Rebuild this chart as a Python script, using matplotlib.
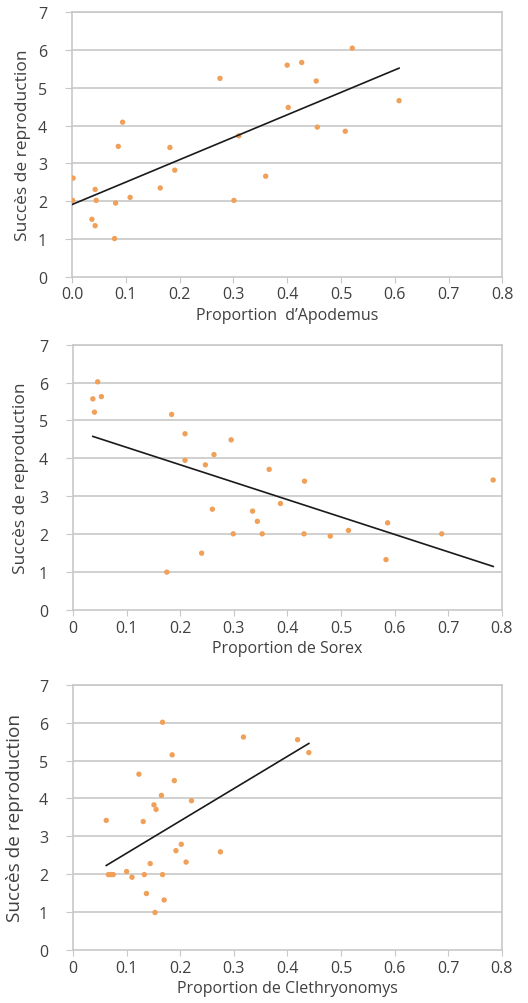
import matplotlib.pyplot as plt
import numpy as np

# data (x = proportion, y = succes de reproduction)
apo_x = [0.002, 0.001, 0.043, 0.045, 0.037, 0.043, 0.079, 0.081, 0.086, 0.094,
         0.108, 0.164, 0.182, 0.191, 0.275, 0.301, 0.310, 0.360, 0.400, 0.402,
         0.427, 0.454, 0.456, 0.508, 0.521, 0.608]
apo_y = [2.61, 2.02, 2.31, 2.02, 1.52, 1.35, 1.01, 1.95, 3.45, 4.09,
         2.10, 2.35, 3.42, 2.82, 5.25, 2.02, 3.73, 2.66, 5.60, 4.48,
         5.67, 5.18, 3.96, 3.85, 6.05, 4.66]
apo_fit_x = [0.0, 0.608]
apo_fit_y = [1.91, 5.52]

sor_x = [0.037, 0.040, 0.046, 0.053, 0.175, 0.184, 0.209, 0.209, 0.240, 0.247,
         0.260, 0.263, 0.295, 0.299, 0.335, 0.344, 0.353, 0.366, 0.387, 0.431,
         0.432, 0.480, 0.514, 0.584, 0.587, 0.688, 0.784]
sor_y = [5.57, 5.22, 6.02, 5.63, 1.00, 5.16, 4.65, 3.95, 1.50, 3.83,
         2.66, 4.10, 4.49, 2.01, 2.61, 2.34, 2.01, 3.71, 2.81, 2.01,
         3.40, 1.95, 2.10, 1.33, 2.30, 2.01, 3.43]
sor_fit_x = [0.037, 0.784]
sor_fit_y = [4.58, 1.15]

cle_x = [0.062, 0.066, 0.071, 0.075, 0.100, 0.110, 0.123, 0.131, 0.133, 0.137,
         0.144, 0.151, 0.155, 0.153, 0.165, 0.167, 0.167, 0.170, 0.185, 0.189,
         0.192, 0.202, 0.211, 0.221, 0.275, 0.318, 0.419, 0.440]
cle_y = [3.42, 1.99, 1.99, 1.99, 2.07, 1.92, 4.64, 3.39, 1.99, 1.49,
         2.28, 3.83, 3.71, 0.99, 4.08, 6.01, 1.99, 1.32, 5.15, 4.47,
         2.62, 2.79, 2.32, 3.94, 2.59, 5.62, 5.55, 5.21]
cle_fit_x = [0.062, 0.440]
cle_fit_y = [2.23, 5.45]

xticks = [0, 0.1, 0.2, 0.3, 0.4, 0.5, 0.6, 0.7, 0.8]
yticks = [0, 1, 2, 3, 4, 5, 6, 7]

# x, y, fit x, fit y, xlabel, xticklabels, axes rect, ylabel size, ylabel x
panels = [
    (apo_x, apo_y, apo_fit_x, apo_fit_y, "Proportion  d\u2019Apodemus",
     ["0.0", "0.1", "0.2", "0.3", "0.4", "0.5", "0.6", "0.7", "0.8"],
     [0.1364, 0.7234, 0.815, 0.2634], 12.5, -0.096),
    (sor_x, sor_y, sor_fit_x, sor_fit_y, "Proportion de Sorex",
     ["0", "0.1", "0.2", "0.3", "0.4", "0.5", "0.6", "0.7", "0.8"],
     [0.1383, 0.3914, 0.812, 0.2643], 12.5, -0.103),
    (cle_x, cle_y, cle_fit_x, cle_fit_y, "Proportion de Clethryonomys",
     ["0", "0.1", "0.2", "0.3", "0.4", "0.5", "0.6", "0.7", "0.8"],
     [0.1383, 0.0528, 0.812, 0.2642], 13.7, -0.114),
]

plt.rcParams['font.family'] = ['Open Sans', 'DejaVu Sans']

fig = plt.figure(figsize=(5.28, 10.04), dpi=100)
grey = '#c8c8c8'
txt = '#404040'

for px, py, fx, fy, xlabel, xtl, pos, ysize, ylx in panels:
    ax = fig.add_axes(pos)
    ax.set_xlim(0, 0.8)
    ax.set_ylim(0, 7)
    ax.set_yticks(yticks)
    ax.set_xticks(xticks)
    ax.set_xticklabels(xtl)
    for yv in yticks[1:]:
        ax.axhline(yv, color=grey, lw=1.2, zorder=0)
    for s in ax.spines.values():
        s.set_color(grey)
        s.set_linewidth(1.2)
    ax.tick_params(axis='y', length=5, color=grey, labelcolor=txt, labelsize=11.5, pad=13)
    ax.tick_params(axis='x', length=4, color=grey, labelcolor=txt, labelsize=11.5, pad=3)
    ax.scatter(px, py, s=15, color='#f0a058', edgecolors='none', zorder=3)
    ax.plot(fx, fy, color='#1a1a1a', lw=1.2, zorder=4)
    ax.set_xlabel(xlabel, fontsize=11.5, color=txt, labelpad=3)
    ax.set_ylabel("Succès de reproduction", fontsize=ysize, color=txt)
    ax.yaxis.set_label_coords(ylx, 0.5)

fig.savefig('out.png', dpi=100)
